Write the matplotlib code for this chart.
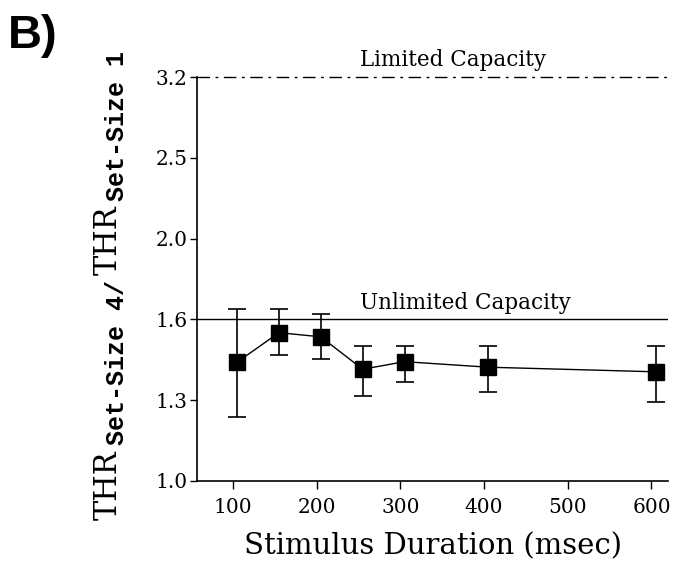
import numpy as np
import matplotlib
matplotlib.use("Agg")
import matplotlib.pyplot as plt

# data (y axis is logarithmic)
duration = [105, 155, 205, 255, 305, 405, 605]
ratio = [1.403, 1.526, 1.508, 1.375, 1.405, 1.383, 1.365]
err_hi = [1.633, 1.633, 1.608, 1.471, 1.471, 1.471, 1.471]
err_lo = [1.201, 1.431, 1.416, 1.275, 1.325, 1.289, 1.254]

unlimited = 10 ** 0.2
limited = 10 ** 0.5

yticks = [10 ** (0.1 * k) for k in range(6)]
ytick_labels = ["1.0", "1.3", "1.6", "2.0", "2.5", "3.2"]
xticks = [100, 200, 300, 400, 500, 600]

serif = "DejaVu Serif"
mono = "Liberation Mono"

fig = plt.figure(figsize=(6.91, 5.73), dpi=100)
ax = fig.add_axes([0.285, 0.1606, 0.682, 0.705])

ratio = np.array(ratio)
yerr = [ratio - np.array(err_lo), np.array(err_hi) - ratio]
ax.errorbar(duration, ratio, yerr=yerr, color="black", lw=1.0, elinewidth=1.2,
            capsize=6.5, capthick=1.2, marker="s", ms=12, mfc="black", mec="black")

ax.axhline(unlimited, color="black", lw=1.0)
ax.axhline(limited, color="black", lw=1.0, dashes=(9, 4, 2, 4), clip_on=False)

ax.annotate("Limited Capacity", (363, limited), xytext=(0, 4), textcoords="offset points",
            ha="center", va="bottom", fontsize=15.5, family=serif, weight="light")
ax.annotate("Unlimited Capacity", (378, unlimited), xytext=(0, 4), textcoords="offset points",
            ha="center", va="bottom", fontsize=15.5, family=serif, weight="light")

ax.set_yscale("log")
ax.set_ylim(1.0, limited)
ax.set_xlim(57, 620)
ax.yaxis.set_major_locator(matplotlib.ticker.FixedLocator(yticks))
ax.yaxis.set_major_formatter(matplotlib.ticker.FixedFormatter(ytick_labels))
ax.yaxis.set_minor_locator(matplotlib.ticker.NullLocator())
ax.set_xticks(xticks)

for s in ["top", "right"]:
    ax.spines[s].set_visible(False)
for s in ["left", "bottom"]:
    ax.spines[s].set_linewidth(1.2)

ax.tick_params(axis="x", direction="out", length=6, width=1.0, labelsize=14.5, pad=6)
ax.tick_params(axis="y", direction="out", length=5, width=1.0, labelsize=14.5, pad=2)
for lab in ax.get_xticklabels() + ax.get_yticklabels():
    lab.set_family(serif)

ax.set_xlabel("Stimulus Duration (msec)", family=serif, fontsize=21, labelpad=11)

fig.text(0.012, 0.975, "B)", family="Liberation Sans", weight="bold", fontsize=34,
         ha="left", va="top")

# y label built from pieces: THR in serif, set size in bold mono, shifted like a subscript
pieces = [("THR", serif, "normal", 22, 0),
          ("Set-Size 4/", mono, "bold", 18, 12),
          ("THR", serif, "normal", 22, 0),
          ("Set-Size 1", mono, "bold", 18, 12)]
fig.canvas.draw()
renderer = fig.canvas.get_renderer()
W, H = fig.bbox.width, fig.bbox.height
ypix = 573 - 520
xpix = 93
for txt, fam, wt, fs, dx in pieces:
    t = fig.text((xpix + dx) / W, ypix / H, txt, family=fam, weight=wt, fontsize=fs,
                 rotation=90, ha="left", va="bottom")
    bb = t.get_window_extent(renderer)
    ypix = bb.y1 + 5

fig.savefig("out.png", dpi=100)
